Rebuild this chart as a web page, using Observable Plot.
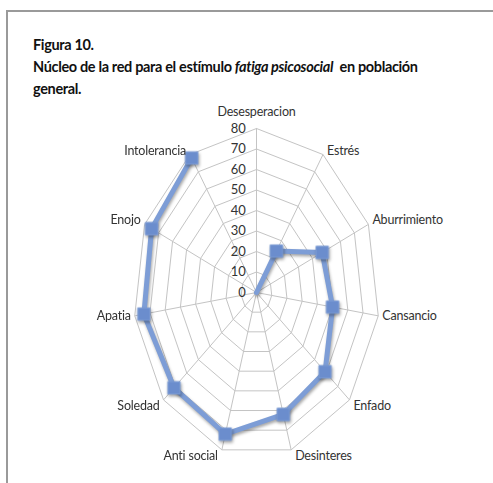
<!DOCTYPE html>
<html>
<head>
<meta charset="utf-8">
<script src="https://cdn.jsdelivr.net/npm/d3@7"></script>
<script src="https://cdn.jsdelivr.net/npm/@observablehq/plot@0.6"></script>
<style>
  html, body { margin: 0; padding: 0; background: #fff; }
  #wrap { position: relative; width: 493px; height: 483px; overflow: hidden; background: #fff; }
  #frame { position: absolute; left: 6px; top: 10px; width: 500px; height: 500px;
           border-top: 2px solid #9a9a9a; border-left: 2px solid #9a9a9a; }
  #title { position: absolute; left: 33px; top: 34px; font-family: Lato, "Noto Sans", sans-serif;
           font-weight: bold; font-size: 14.5px; line-height: 22px; color: #111; white-space: nowrap; letter-spacing: -0.35px; }
  #chart { position: absolute; left: 0; top: 100px; }
  #chart .series { filter: drop-shadow(1px 2px 1.5px rgba(0,0,0,0.35)); }
</style>
</head>
<body>
<div id="wrap">
  <div id="frame"></div>
  <div id="title">Figura 10.<br>Núcleo de la red para el estímulo <i>fatiga psicosocial</i>&nbsp; en población<br>general.</div>
  <div id="chart"></div>
</div>
<script>
const categories = ["Desesperacion","Estrés","Aburrimiento","Cansancio","Enfado","Desinteres","Anti social","Soledad","Apatia","Enojo","Intolerancia"];
const values = [0, 24, 47, 50, 59, 62, 72, 71, 74, 75, 78];
const ticks = [0, 10, 20, 30, 40, 50, 60, 70, 80];
const maxValue = 80;

const n = categories.length;
const ang = i => i * 2 * Math.PI / n;

const rings = [];
ticks.filter(t => t > 0).forEach(t => {
  for (let i = 0; i <= n; i++) rings.push({t, x: t * Math.sin(ang(i % n)), y: t * Math.cos(ang(i % n))});
});
const spokes = categories.map((c, i) => ({x1: 0, y1: 0, x2: maxValue * Math.sin(ang(i)), y2: maxValue * Math.cos(ang(i))}));
const series = categories.map((c, i) => ({c, v: values[i], x: values[i] * Math.sin(ang(i)), y: values[i] * Math.cos(ang(i))}));

const labelData = categories.map((c, i) => {
  const s = Math.sin(ang(i)), co = Math.cos(ang(i));
  return {c, x: maxValue * s, y: maxValue * co,
    ta: s > 0.1 ? "start" : s < -0.1 ? "end" : "middle",
    la: co > 0.3 ? "bottom" : co < -0.3 ? "top" : "middle"};
});
const labelMarks = d3.groups(labelData, d => d.ta + "|" + d.la).map(([k, g]) => {
  const ta = g[0].ta, la = g[0].la;
  return Plot.text(g, {x: "x", y: "y", text: "c", textAnchor: ta, lineAnchor: la,
    dx: ta === "start" ? 4 : ta === "end" ? -4 : 0,
    dy: (ta === "middle" && la === "bottom") ? -13 : (la === "top" ? 1 : 0),
    fill: "#333", fontSize: 12.5});
});

const cx = 256, cy = 192, rx = 123, ry = 164;
const chart = Plot.plot({
  width: 493, height: 383,
  marginTop: 0, marginBottom: 0, marginLeft: 0, marginRight: 0,
  style: {fontFamily: 'Lato, "Noto Sans", sans-serif', background: "transparent", letterSpacing: "-0.2px"},
  x: {domain: [-maxValue, maxValue], range: [cx - rx, cx + rx], axis: null},
  y: {domain: [-maxValue, maxValue], range: [cy + ry, cy - ry], axis: null},
  marks: [
    Plot.line(rings, {x: "x", y: "y", z: "t", stroke: "#c4c4c4", strokeWidth: 1}),
    Plot.link(spokes, {x1: "x1", y1: "y1", x2: "x2", y2: "y2", stroke: "#c4c4c4", strokeWidth: 1}),
    Plot.text(ticks, {x: 0, y: d => d, text: d => String(d), textAnchor: "end", dx: -11, fill: "#333", fontSize: 13}),
    Plot.line(series, {x: "x", y: "y", stroke: "#7d9dd6", strokeWidth: 5, strokeLinejoin: "miter", className: "series"}),
    Plot.dot(series.filter(d => d.v > 0), {x: "x", y: "y", symbol: "square", r: 7, fill: "#6b8dcd", stroke: "#7d9dd6", strokeWidth: 1, className: "series"}),
    ...labelMarks
  ]
});
document.getElementById("chart").appendChild(chart);
</script>
</body>
</html>
